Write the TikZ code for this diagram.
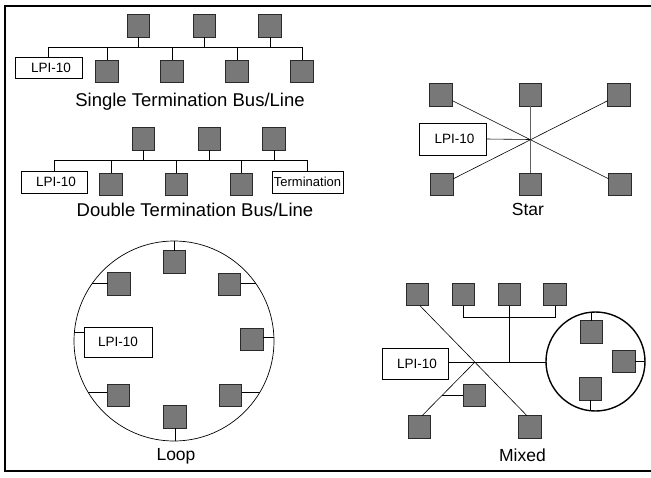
\documentclass[tikz,border=0pt]{standalone}
\usepackage{fontspec}
\setmainfont{Liberation Sans}
\definecolor{devgray}{HTML}{787878}
\definecolor{devedge}{HTML}{2A2A2A}
\begin{document}
\begin{tikzpicture}[x=1pt,y=-1pt,
  dev/.style={draw=devedge, fill=devgray, minimum size=22.5pt, inner sep=0pt, outer sep=0pt, line width=0.7pt},
  box/.style={draw, fill=white, inner sep=0pt, outer sep=0pt, line width=0.6pt, font=\fontsize{13.5}{13.5}\selectfont},
  wire/.style={line width=0.6pt},
  lbl/.style={anchor=base, inner sep=0pt, font=\fontsize{17.5}{17.5}\selectfont},
  buslbl/.style={lbl, font=\fontsize{18.5}{18.5}\selectfont},
  frame/.style={line width=1.8pt}]
\useasboundingbox (0,0) rectangle (651,477);
% frame
\coordinate (f1) at (651,6);
\coordinate (f2) at (5,6);
\coordinate (f3) at (5,471);
\coordinate (f4) at (651,471);
\draw[frame] (f1) -- (f2) -- (f3) -- (f4);

% ---------- Single termination ----------
\node[box, minimum width=67pt, minimum height=21pt] (slpi) at (48.5,67.5) {\hspace*{5pt}LPI-10};
\node[dev] (st1) at (138.5,26) {};
\node[dev] (st2) at (204.5,26) {};
\node[dev] (st3) at (270,26) {};
\node[dev] (sb1) at (107,71.5) {};
\node[dev] (sb2) at (172,71.5) {};
\node[dev] (sb3) at (237,71.5) {};
\node[dev] (sb4) at (302,71.5) {};
\coordinate (sbus) at (0,47);
\draw[wire] (slpi.north) -- (slpi.north |- sbus) -| (sb4.north);
\foreach \n in {st1,st2,st3} \draw[wire] (\n.south) -- (\n.south |- sbus);
\foreach \n in {sb1,sb2,sb3} \draw[wire] (\n.north) -- (\n.north |- sbus);
\node[buslbl] (slbl) at (190,106) {Single Termination Bus/Line};

% ---------- Double termination ----------
\node[box, minimum width=66pt, minimum height=22pt] (dlpi) at (54,182) {\hspace*{4pt}LPI-10};
\node[box, minimum width=71pt, minimum height=22pt, font=\fontsize{13}{13}\selectfont] (dterm) at (307.5,182) {Termination};
\node[dev] (dt1) at (143.5,139) {};
\node[dev] (dt2) at (209.5,139) {};
\node[dev] (dt3) at (274,139) {};
\node[dev] (db1) at (111,184.5) {};
\node[dev] (db2) at (176.5,184.5) {};
\node[dev] (db3) at (241.5,184.5) {};
\coordinate (dbus) at (0,160);
\draw[wire] (dlpi.north) -- (dlpi.north |- dbus) -| (dterm.north);
\foreach \n in {dt1,dt2,dt3} \draw[wire] (\n.south) -- (\n.south |- dbus);
\foreach \n in {db1,db2,db3} \draw[wire] (\n.north) -- (\n.north |- dbus);
\node[buslbl] (dlbl) at (195,216.7) {Double Termination Bus/Line};

% ---------- Star ----------
\node[dev] (stl) at (441,95) {};
\node[dev] (stm) at (530.5,95) {};
\node[dev] (str) at (619,95) {};
\node[dev] (sbl) at (442,184.5) {};
\node[dev] (sbm) at (530.5,184.5) {};
\node[dev] (sbr) at (620,184.5) {};
\node[box, minimum width=67pt, minimum height=32pt] (starlpi) at (452.5,139) {\hspace*{4pt}LPI-10};
\coordinate (hub) at (530.5,139.5);
\draw[wire] (stl) -- (sbr);
\draw[wire] (sbl) -- (str);
\draw[line width=1.1pt, draw=devgray!80!black] (stm) -- (sbm);
\draw[wire] (starlpi.east) -- (hub);
\node[lbl] (starlbl) at (528,215.7) {Star};

% ---------- Loop ----------
\node[circle, draw, line width=0.7pt, minimum size=200pt, inner sep=0pt, outer sep=0pt] (ring) at (174,341) {};
\node[dev] (lt) at (174.5,262) {};
\node[dev] (lul) at (119,284) {};
\node[dev] (lur) at (229.5,284.5) {};
\node[dev] (lr) at (252,339.5) {};
\node[dev] (lll) at (118.5,395.5) {};
\node[dev] (llr) at (230.5,395.5) {};
\node[dev] (lb) at (175,417) {};
\node[box, minimum width=68pt, minimum height=30pt] (looplpi) at (118,342) {LPI-10};
\draw[wire] (lt.north) -- (lt.north |- ring.north);
\draw[wire] (lb.south) -- (lb.south |- ring.south);
\draw[wire] (ring.145) -- (lul.west |- ring.145);
\draw[wire] (ring.35) -- (lur.east |- ring.35);
\draw[wire] (ring.2) -- (lr.east |- ring.2);
\draw[wire] (ring.175) -- (looplpi.west |- ring.175);
\draw[wire] (ring.211) -- (lll.west |- ring.211);
\draw[wire] (ring.329) -- (llr.east |- ring.329);
\node[lbl] (looplbl) at (176,460.5) {Loop};

% ---------- Mixed ----------
\node[dev] (mt1) at (417.5,294.5) {};
\node[dev] (mt2) at (463.5,294.5) {};
\node[dev] (mt3) at (509.5,294.5) {};
\node[dev] (mt4) at (555,294.5) {};
\node[dev] (mb1) at (419.5,427) {};
\node[dev] (mb2) at (474.5,395.5) {};
\node[dev] (mb3) at (530,427) {};
\node[box, minimum width=66pt, minimum height=31pt] (mlpi) at (415,363.5) {\hspace*{4pt}LPI-10};
\node[circle, draw, line width=1.4pt, minimum size=99pt, inner sep=0pt, outer sep=0pt] (mring) at (595.5,361.5) {};
\node[dev] (mr1) at (591.5,332) {};
\node[dev] (mr2) at (624,361.5) {};
\node[dev] (mr3) at (590.5,389) {};
\coordinate (mbus) at (0,317);
\coordinate (mmain) at (0,362);
\coordinate (cross) at (475,362);
\coordinate (branch) at (442,395.5);
\draw[wire] (mt2.south) |- (mt4.south |- mbus) -- (mt4.south);
\draw[wire] (mt3.south) -- (mt3.south |- mmain);
\draw[wire] (mlpi.east |- mmain) -- (mring.west |- mmain);
\draw[wire] ([xshift=2.5pt]mt1.south) -- ([xshift=-3pt]mb3.north);
\draw[wire] ([xshift=2.5pt]mb1.north) -- (cross);
\draw[wire] (branch) -- (mb2.west);
\draw[wire] (mr1.north) -- (mr1.north |- mring.94);
\draw[wire] (mr2.east) -- (mring.east);
\draw[wire] (mr3.south) -- (mr3.south |- mring.266);
\node[lbl] (mixlbl) at (522.5,461.7) {Mixed};
\end{tikzpicture}
\end{document}
